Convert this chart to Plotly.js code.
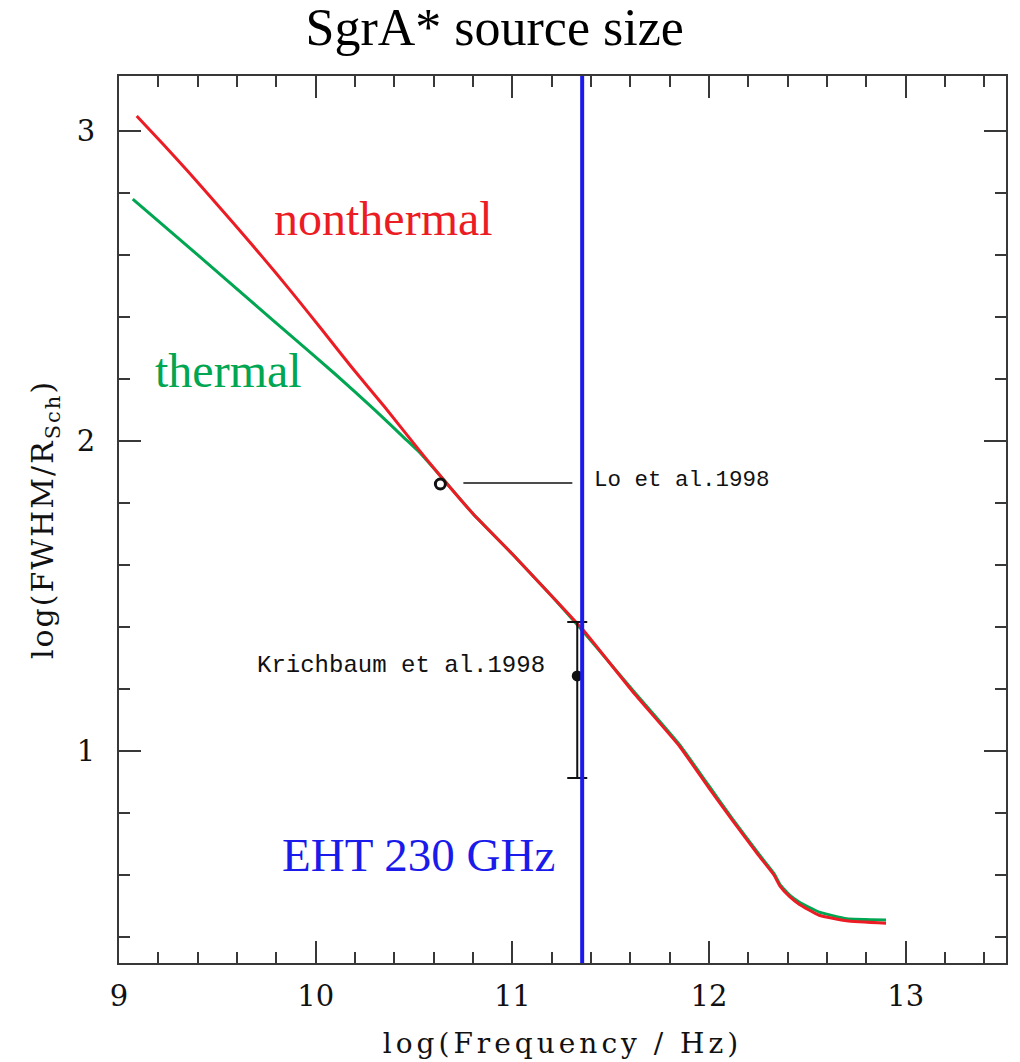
<!DOCTYPE html>
<html>
<head>
<meta charset="utf-8">
<script src="https://cdn.plot.ly/plotly-3.0.1.min.js"></script>
<style>
  html, body { margin: 0; padding: 0; background: #fff; }
  #chart { width: 1020px; height: 1062px; }
  .xtitle { letter-spacing: 4px; }
  .ytitle { letter-spacing: 2px; }
</style>
</head>
<body>
<div id="chart"></div>
<script>
// ---- data (log frequency [Hz], log(FWHM / R_Sch)) ----
const freqNonthermal = [9.09, 9.22, 9.35, 9.50, 9.66, 9.80, 9.91, 10.03, 10.18, 10.35, 10.52, 10.63, 10.80, 11.00, 11.20, 11.36, 11.62, 11.85, 12.00, 12.12, 12.25, 12.33, 12.36, 12.41, 12.46, 12.56, 12.70, 12.90];
const sizeNonthermal = [3.048, 2.96, 2.87, 2.762, 2.645, 2.54, 2.455, 2.36, 2.24, 2.11, 1.975, 1.89, 1.765, 1.635, 1.50, 1.39, 1.185, 1.015, 0.88, 0.775, 0.665, 0.60, 0.565, 0.53, 0.505, 0.47, 0.452, 0.444];

const freqThermal = [9.07, 9.40, 9.70, 9.90, 10.10, 10.30, 10.45, 10.52, 10.63, 10.80, 11.00, 11.20, 11.36, 11.62, 11.85, 12.00, 12.12, 12.25, 12.33, 12.36, 12.41, 12.46, 12.56, 12.70, 12.90];
const sizeThermal = [2.78, 2.60, 2.435, 2.325, 2.215, 2.10, 2.01, 1.968, 1.89, 1.765, 1.635, 1.50, 1.385, 1.19, 1.02, 0.887, 0.78, 0.67, 0.605, 0.57, 0.535, 0.512, 0.48, 0.459, 0.455];

const ehtFreq = [11.355];           // log10(230 GHz)
const loFreq = [10.634];
const loSize = [1.861];
const loLeaderFreq = [10.751, 11.305];
const loLeaderSize = [1.864, 1.864];
const krFreq = [11.33];
const krSize = [1.242];
const krErrPlus = [0.174];
const krErrMinus = [0.329];

const xTickVals = [9, 10, 11, 12, 13];
const yTickVals = [1, 2, 3];

const labelNonthermal = {text: 'nonthermal', x: 10.345, y: 2.716};
const labelThermal = {text: 'thermal', x: 9.558, y: 2.226};
const labelEHT = {text: 'EHT 230 GHz', x: 11.228, y: 0.665};
const labelLo = {text: 'Lo et al.1998', x: 11.406, y: 1.874};
const labelKr = {text: 'Krichbaum et al.1998', x: 11.178, y: 1.274};

const RED = '#ec1c24', GREEN = '#00a651', BLUE = '#1a1aeb', AX = '#383838';

const traces = [
  {x: freqThermal, y: sizeThermal, mode: 'lines', line: {color: GREEN, width: 3, shape: 'spline', smoothing: 0.4}, hoverinfo: 'skip'},
  {x: freqNonthermal, y: sizeNonthermal, mode: 'lines', line: {color: RED, width: 3, shape: 'spline', smoothing: 0.4}, hoverinfo: 'skip'},
  {x: loLeaderFreq, y: loLeaderSize, mode: 'lines', line: {color: '#111', width: 1.6}, hoverinfo: 'skip'},
  {x: loFreq, y: loSize, mode: 'markers', marker: {symbol: 'circle-open', size: 10, color: '#111', line: {width: 3, color: '#111'}}, hoverinfo: 'skip'},
  {x: krFreq, y: krSize, mode: 'markers', marker: {symbol: 'circle', size: 11, color: '#111'},
   error_y: {type: 'data', symmetric: false, array: krErrPlus, arrayminus: krErrMinus, color: '#111', thickness: 2, width: 10}, hoverinfo: 'skip'}
];

function textAnn(lab, color, family, size, xanchor) {
  return {x: lab.x, y: lab.y, xref: 'x', yref: 'y', text: lab.text, showarrow: false,
          xanchor: xanchor, yanchor: 'middle', font: {family: family, size: size, color: color}};
}

const layout = {
  width: 1020, height: 1062,
  margin: {l: 119, r: 14, t: 76, b: 99},
  paper_bgcolor: '#ffffff', plot_bgcolor: '#ffffff',
  showlegend: false,
  title: {text: 'SgrA* source size', x: 0.485, xref: 'container', xanchor: 'center',
          y: 1 - 27 / 1062, yref: 'container', yanchor: 'middle',
          font: {family: 'Liberation Serif', size: 52, color: '#000'}},
  xaxis: {
    range: [9, 13.51], tickvals: xTickVals, ticktext: xTickVals.map(String),
    ticks: 'inside', ticklen: 22, tickwidth: 2, tickcolor: AX,
    minor: {dtick: 0.2, tick0: 9, ticks: 'inside', ticklen: 11, tickwidth: 2, tickcolor: AX},
    showline: true, linecolor: AX, linewidth: 2, mirror: 'ticks',
    showgrid: false, zeroline: false, ticklabelstandoff: 6,
    tickfont: {family: 'DejaVu Serif', size: 29, color: '#111'},
    title: {text: 'log(Frequency / Hz)', standoff: 22, font: {family: 'DejaVu Serif', size: 28, color: '#111'}}
  },
  yaxis: {
    range: [0.316, 3.177], tickvals: yTickVals, ticktext: yTickVals.map(String),
    ticks: 'inside', ticklen: 22, tickwidth: 2, tickcolor: AX,
    minor: {dtick: 0.2, tick0: 0, ticks: 'inside', ticklen: 11, tickwidth: 2, tickcolor: AX},
    showline: true, linecolor: AX, linewidth: 2, mirror: 'ticks',
    showgrid: false, zeroline: false, ticklabelstandoff: 16,
    tickfont: {family: 'DejaVu Serif', size: 29, color: '#111'},
    title: {text: 'log(FWHM/R<sub>Sch</sub>)', standoff: 14, font: {family: 'DejaVu Serif', size: 30, color: '#111'}}
  },
  shapes: [
    {type: 'line', xref: 'x', yref: 'paper', x0: ehtFreq[0], x1: ehtFreq[0], y0: 0, y1: 1,
     line: {color: BLUE, width: 4}}
  ],
  annotations: [
    textAnn(labelNonthermal, RED, 'Liberation Serif', 48, 'center'),
    textAnn(labelThermal, GREEN, 'Liberation Serif', 48, 'center'),
    textAnn(labelEHT, BLUE, 'Liberation Serif', 47, 'right'),
    textAnn(labelLo, '#111', 'Liberation Mono', 22.5, 'left'),
    textAnn(labelKr, '#111', 'Liberation Mono', 24, 'right')
  ]
};

Plotly.newPlot('chart', traces, layout, {staticPlot: true, displayModeBar: false});
</script>
</body>
</html>
